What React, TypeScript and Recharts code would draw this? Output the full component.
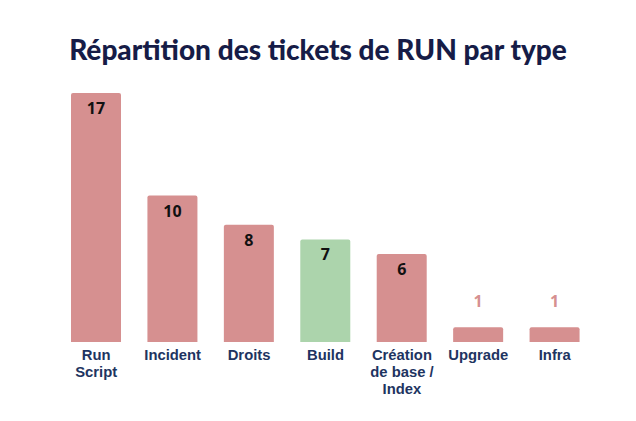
import React from "react";
import { BarChart, Bar, XAxis, YAxis, Cell, LabelList } from "recharts";

const categories = ["Run\nScript", "Incident", "Droits", "Build", "Création\nde base /\nIndex", "Upgrade", "Infra"];
const tickets = [17, 10, 8, 7, 6, 1, 1];
const highlighted = ["Build"];

const RED = "#D69090";
const GREEN = "#ACD4AC";
const NAVY = "#1E3461";

const data = categories.map((c, i) => ({ name: c, value: tickets[i] }));

const colorFor = (name: string) => (highlighted.includes(name) ? GREEN : RED);

const Tick = (props: any) => {
  const { x, y, payload } = props;
  const lines = String(payload.value).split("\n");
  return (
    <text
      x={x}
      y={y + 10}
      textAnchor="middle"
      fill={NAVY}
      fontFamily="'Liberation Sans', Arial, sans-serif"
      fontWeight="bold"
      fontSize={14.8}
    >
      {lines.map((l, i) => (
        <tspan key={i} x={x} dy={i === 0 ? 0 : 16.8}>
          {l}
        </tspan>
      ))}
    </text>
  );
};

const ValueLabel = (props: any) => {
  const { x, y, width, height, value, index } = props;
  const inside = height > 30;
  const cx = x + width / 2;
  const name = data[index].name;
  return (
    <text
      x={cx}
      y={inside ? y + 15 : y - 26}
      textAnchor="middle"
      dominantBaseline="central"
      fill={inside ? "#111" : colorFor(name)}
      fontFamily="'Open Sans', sans-serif"
      fontWeight="bold"
      fontSize={16}
    >
      {value}
    </text>
  );
};

export default function App() {
  return (
    <div style={{ position: "relative", width: 636, height: 421, background: "#fff" }}>
      <style>{"body{margin:0}"}</style>
      <div
        style={{
          position: "absolute",
          top: 31,
          left: 0,
          width: 636,
          textAlign: "center",
          fontFamily: "Lato, sans-serif",
          fontWeight: 900,
          fontSize: 28,
          lineHeight: "36px",
          color: "#161C47",
        }}
      >
        Répartition des tickets de RUN par type
      </div>
      <BarChart
        width={636}
        height={421}
        data={data}
        margin={{ top: 93, right: 43, left: 58, bottom: 0 }}
      >
        <XAxis
          dataKey="name"
          axisLine={false}
          tickLine={false}
          interval={0}
          height={79}
          tick={<Tick />}
        />
        <YAxis hide domain={[0, 17]} />
        <Bar dataKey="value" barSize={50} radius={[2, 2, 0, 0]} isAnimationActive={false}>
          {data.map((d, i) => (
            <Cell key={i} fill={colorFor(d.name)} />
          ))}
          <LabelList dataKey="value" content={<ValueLabel />} />
        </Bar>
      </BarChart>
    </div>
  );
}
